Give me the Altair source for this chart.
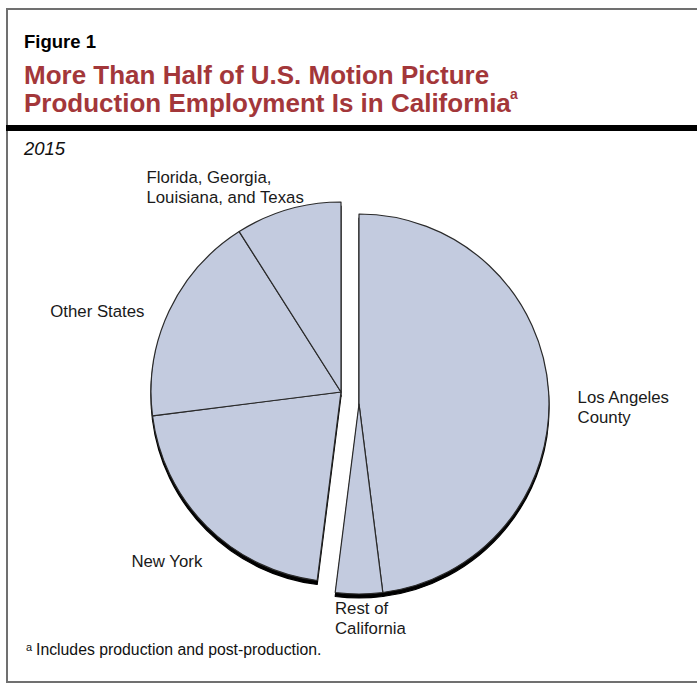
import altair as alt
import pandas as pd

# ---------------- data ----------------
categories = ["Los Angeles County", "Rest of California", "New York",
              "Other States", "Florida, Georgia, Louisiana, and Texas"]
shares = [48, 4, 21, 18, 9]
groups = ["California", "California", "Rest of U.S.", "Rest of U.S.", "Rest of U.S."]
labels = ["Los Angeles\nCounty", "Rest of\nCalifornia", "New York",
          "Other States", "Florida, Georgia,\nLouisiana, and Texas"]

figure_label = "Figure 1"
title_lines = ["More Than Half of U.S. Motion Picture",
               "Production Employment Is in California"]
note_mark = "a"
subtitle = "2015"
footnote = "Includes production and post-production."

df = pd.DataFrame({"category": categories, "share": shares, "group": groups,
                   "label": labels, "order": list(range(len(categories)))})

# ---------------- layout / style ----------------
W, H = 697, 684
CL = (341, 392)   # centre of the rest-of-U.S. pie part
CR = (359, 404)   # centre of the exploded California part
R = 190
FILL = "#c3cbdf"
EDGE = "#2a2a2a"
RED = "#a3373a"
FONT = "Liberation Sans"

base = (alt.Chart(df)
        .transform_window(cum="sum(share)", sort=[alt.SortField("order")], frame=[None, 0])
        .transform_joinaggregate(total="sum(share)")
        .transform_calculate(t1="2*PI*datum.cum/datum.total")
        .transform_calculate(t0="datum.t1 - 2*PI*datum.share/datum.total")
        .transform_calculate(tm="(datum.t0 + datum.t1)/2"))


def arcs(grp, c, fill, stroke, yoff=0, sw=1.2):
    return (base.transform_filter(alt.datum.group == grp)
            .mark_arc(outerRadius=R, x=c[0], y=c[1] + yoff, fill=fill, stroke=stroke,
                      strokeWidth=sw, strokeJoin="round")
            .encode(theta=alt.Theta("t0:Q", scale=None, stack=None), theta2="t1:Q"))


shadow_l = arcs("Rest of U.S.", CL, "black", "black", yoff=4)
shadow_r = arcs("California", CR, "black", "black", yoff=4)
pie_l = arcs("Rest of U.S.", CL, FILL, EDGE)
pie_r = arcs("California", CR, FILL, EDGE)

# label nudges: (category, centre, radius, align, dx, dy)
label_specs = [
    ("Los Angeles County", CR, 215, "left", 4, 12),
    ("Rest of California", CR, 200, "left", -24, 10),
    ("New York", CL, 235, "center", -8, 9),
    ("Other States", CL, 235, "center", -31, 25),
    ("Florida, Georgia, Louisiana, and Texas", CL, 235, "left", -129, 17),
]
label_layers = []
for cat, c, rad, al, dx, dy in label_specs:
    label_layers.append(
        base.transform_filter(alt.datum.category == cat)
        .mark_text(x=c[0], y=c[1], align=al, baseline="alphabetic", dx=dx, dy=dy,
                   lineBreak="\n", lineHeight=20, font=FONT, fontSize=16.8, color="#1a1a1a")
        .encode(theta=alt.Theta("tm:Q", scale=None, stack=None),
                radius=alt.value(rad), text="label:N"))

one = pd.DataFrame({"k": [0]})


def txt(s, x, y, size, **kw):
    return (alt.Chart(pd.DataFrame({"t": [s]}))
            .mark_text(align="left", baseline="alphabetic", font=FONT, fontSize=size, **kw)
            .encode(text="t:N", x=alt.value(x), y=alt.value(y)))


frame = (alt.Chart(one).mark_rect(fillOpacity=0, stroke="#707070", strokeWidth=2)
         .encode(x=alt.value(7), x2=alt.value(720), y=alt.value(9), y2=alt.value(682)))
rule = (alt.Chart(one).mark_rule(color="black", strokeWidth=6)
        .encode(x=alt.value(6), x2=alt.value(720), y=alt.value(128)))

texts = [
    txt(figure_label, 24, 48, 18.5, fontWeight="bold", color="black"),
    txt(title_lines[0], 24, 84, 26, fontWeight="bold", color=RED),
    txt(title_lines[1], 24, 112, 26, fontWeight="bold", color=RED),
    txt(note_mark, 510, 99, 14, fontWeight="bold", color=RED),
    txt(subtitle, 24, 155, 18.5, fontStyle="italic", color="#111"),
    txt(note_mark, 26, 651, 11, color="#111"),
    txt(footnote, 36, 655, 15.8, color="#111"),
]

chart = alt.layer(frame, rule, shadow_l, shadow_r, pie_l, pie_r, *label_layers, *texts).properties(
    width=W, height=H, padding=0, autosize=alt.AutoSizeParams(type="none"),
    background="white"
).configure_view(strokeWidth=0)

chart.save("out.html", embed_options={"renderer": "svg", "actions": False})
